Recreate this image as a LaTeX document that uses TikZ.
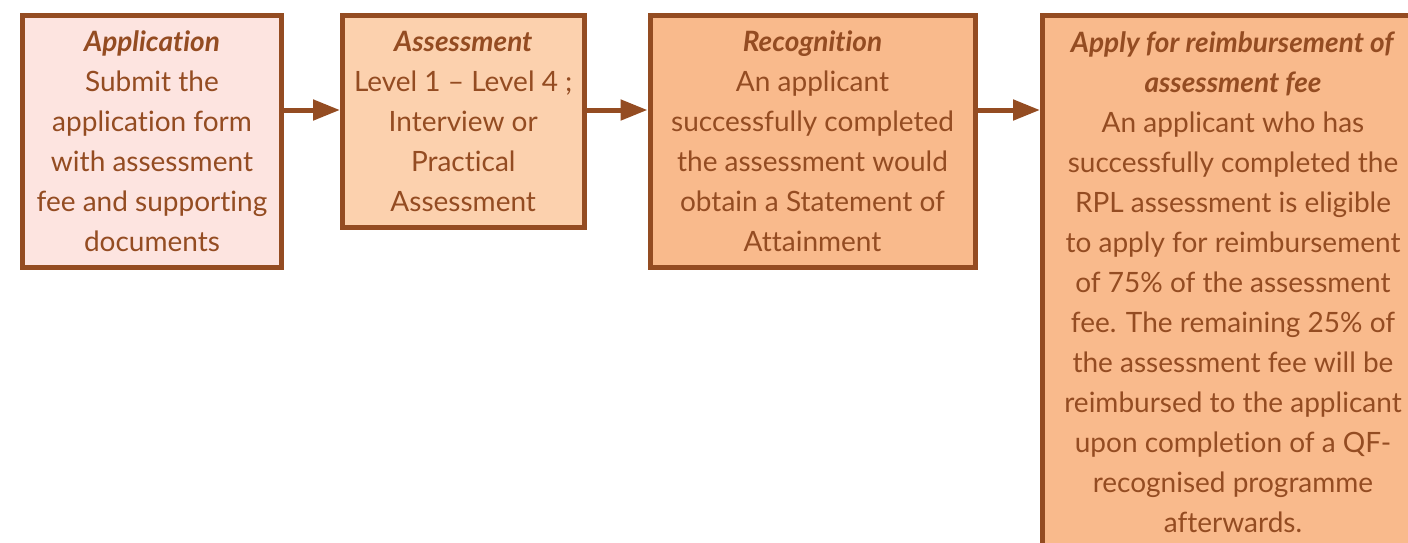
\documentclass[tikz,border=0pt]{standalone}
\usepackage{fontspec}
\setmainfont{Lato}[Ligatures=NoCommon]
\usetikzlibrary{arrows.meta}
\definecolor{rplbrown}{HTML}{944C22}
\definecolor{rplpink}{HTML}{FDE4E0}
\definecolor{rplpeach}{HTML}{FCD1AE}
\definecolor{rplorange}{HTML}{F9BA8C}
\newcommand{\stage}[1]{\textbf{\textit{#1}}}
\begin{document}
\begin{tikzpicture}[x=1pt,y=1pt,
    box/.style={draw=rplbrown, line width=5pt, text=rplbrown, align=center,
        inner sep=0pt, anchor=north west, font=\fontsize{28}{40}\selectfont},
    arr/.style={draw=rplbrown, line width=5pt, -{Triangle[length=27pt,width=20pt]}}]
\useasboundingbox (0,0) rectangle (1408,-542);
\clip (0,0) rectangle (1408,-542);
\coordinate (lvl) at (0,-110);
\node[box, fill=rplpink, minimum width=259pt, minimum height=252.5pt] (app) at (20,-12.5)
    {\stage{Application}\\Submit the\\application form\\with assessment\\fee and supporting\\documents};
\node[box, fill=rplpeach, minimum width=241.5pt, minimum height=212.5pt] (asmt) at (340,-12.5)
    {\stage{Assessment}\\Level 1 -- Level 4 ;\\Interview or\\Practical\\Assessment};
\node[box, fill=rplorange, minimum width=325pt, minimum height=252.5pt] (recog) at (647.5,-12.5)
    {\stage{Recognition}\\An applicant\\successfully completed\\the assessment would\\obtain a Statement of\\Attainment};
\node[box, fill=rplorange, minimum width=381pt, inner ysep=16pt, text height=501pt, text depth=40pt] (reimb) at (1040,-12.5)
    {\stage{Apply for reimbursement of}\\\stage{assessment fee}\\An applicant who has\\successfully completed the\\RPL assessment is eligible\\to apply for reimbursement\\of 75\% of the assessment\\fee. The remaining 25\% of\\the assessment fee will be\\reimbursed to the applicant\\upon completion of a QF-\\recognised programme\\afterwards.};
\draw[arr] (app.east |- lvl) -- (asmt.west |- lvl);
\draw[arr] (asmt.east |- lvl) -- (recog.west |- lvl);
\draw[arr] (recog.east |- lvl) -- (reimb.west |- lvl);
\end{tikzpicture}
\end{document}
